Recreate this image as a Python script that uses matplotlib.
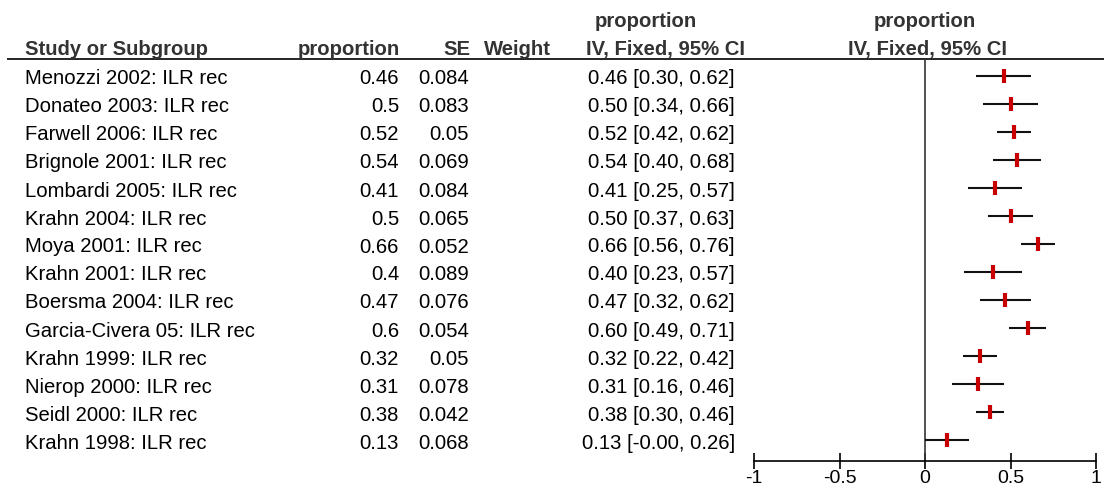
import matplotlib
matplotlib.use("Agg")
import matplotlib.pyplot as plt

plt.rcParams['font.family'] = ['Liberation Sans', 'DejaVu Sans']

studies = ["Menozzi 2002: ILR rec", "Donateo 2003: ILR rec", "Farwell 2006: ILR rec",
           "Brignole 2001: ILR rec", "Lombardi 2005: ILR rec", "Krahn 2004: ILR rec",
           "Moya 2001: ILR rec", "Krahn 2001: ILR rec", "Boersma 2004: ILR rec",
           "Garcia-Civera 05: ILR rec", "Krahn 1999: ILR rec", "Nierop 2000: ILR rec",
           "Seidl 2000: ILR rec", "Krahn 1998: ILR rec"]
proportion = [0.46, 0.5, 0.52, 0.54, 0.41, 0.5, 0.66, 0.4, 0.47, 0.6, 0.32, 0.31, 0.38, 0.13]
se = [0.084, 0.083, 0.05, 0.069, 0.084, 0.065, 0.052, 0.089, 0.076, 0.054, 0.05, 0.078, 0.042, 0.068]
ci_low = [0.30, 0.34, 0.42, 0.40, 0.25, 0.37, 0.56, 0.23, 0.32, 0.49, 0.22, 0.16, 0.30, -0.0]
ci_high = [0.62, 0.66, 0.62, 0.68, 0.57, 0.63, 0.76, 0.57, 0.62, 0.71, 0.42, 0.46, 0.46, 0.26]
xticks = [-1, -0.5, 0, 0.5, 1]
xtick_labels = ["-1", "-0.5", "0", "0.5", "1"]

W, H = 1104, 490
FS = 14.6
HEAD = '#333333'

# rows are 28 px apart, first row centred at 76 px from the top
def row(px):
    return (px - 76) / 28.0

fig = plt.figure(figsize=(W / 100, H / 100), dpi=100)

# table text lives in a full-figure axes: x in pixels, y in row units
tab = fig.add_axes([0, 0, 1, 1])
tab.set_xlim(0, W)
tab.set_ylim(row(H), row(0))
tab.axis('off')

base = row(84.5)
head2 = row(55)
head1 = row(27)

tab.text(25, head2, "Study or Subgroup", ha='left', va='baseline', fontsize=FS,
         fontweight='bold', color=HEAD)
tab.text(400, head2, "proportion", ha='right', va='baseline', fontsize=FS,
         fontweight='bold', color=HEAD)
tab.text(470, head2, "SE", ha='right', va='baseline', fontsize=FS,
         fontweight='bold', color=HEAD)
tab.text(484, head2, "Weight", ha='left', va='baseline', fontsize=FS,
         fontweight='bold', color=HEAD)
tab.text(646, head1, "proportion", ha='center', va='baseline', fontsize=FS,
         fontweight='bold', color=HEAD)
tab.text(665, head2, "IV, Fixed, 95% CI", ha='center', va='baseline', fontsize=FS,
         fontweight='bold', color=HEAD)
tab.text(925, head1, "proportion", ha='center', va='baseline', fontsize=FS,
         fontweight='bold', color=HEAD)
tab.text(928, head2, "IV, Fixed, 95% CI", ha='center', va='baseline', fontsize=FS,
         fontweight='bold', color=HEAD)

tab.plot([7, W], [row(59.5), row(59.5)], color='black', lw=1.2, solid_capstyle='butt')

for i, name in enumerate(studies):
    y = i + base
    tab.text(25, y, name, ha='left', va='baseline', fontsize=FS, color='black')
    tab.text(399, y, f"{proportion[i]:g}", ha='right', va='baseline', fontsize=FS)
    tab.text(469, y, f"{se[i]:g}", ha='right', va='baseline', fontsize=FS)
    tab.text(735, y, f"{proportion[i]:.2f} [{ci_low[i]:.2f}, {ci_high[i]:.2f}]",
             ha='right', va='baseline', fontsize=FS)

# forest panel
top_px, bot_px = 59.5, 461
left_px, right_px = 754, 1096
ax = fig.add_axes([left_px / W, (H - bot_px) / H, (right_px - left_px) / W,
                   (bot_px - top_px) / H])
ax.set_xlim(-1, 1)
ax.set_ylim(row(bot_px), row(top_px))
ax.patch.set_alpha(0)
for s in ['top', 'right', 'left']:
    ax.spines[s].set_visible(False)
ax.spines['bottom'].set_linewidth(1.2)
ax.set_yticks([])
ax.set_xticks(xticks)
ax.set_xticklabels(xtick_labels, fontsize=14)
ax.tick_params(axis='x', direction='inout', length=12, width=1.2, pad=0.5)

ax.axvline(0, color='#333333', lw=1.2)

ys = list(range(len(studies)))
ax.hlines(ys, ci_low, ci_high, color='#111111', lw=1.5)
ax.plot(proportion, ys, linestyle='none', marker='|', markersize=10.5,
        markeredgewidth=3.0, color='#c80000')

fig.savefig("out.png", dpi=100)
